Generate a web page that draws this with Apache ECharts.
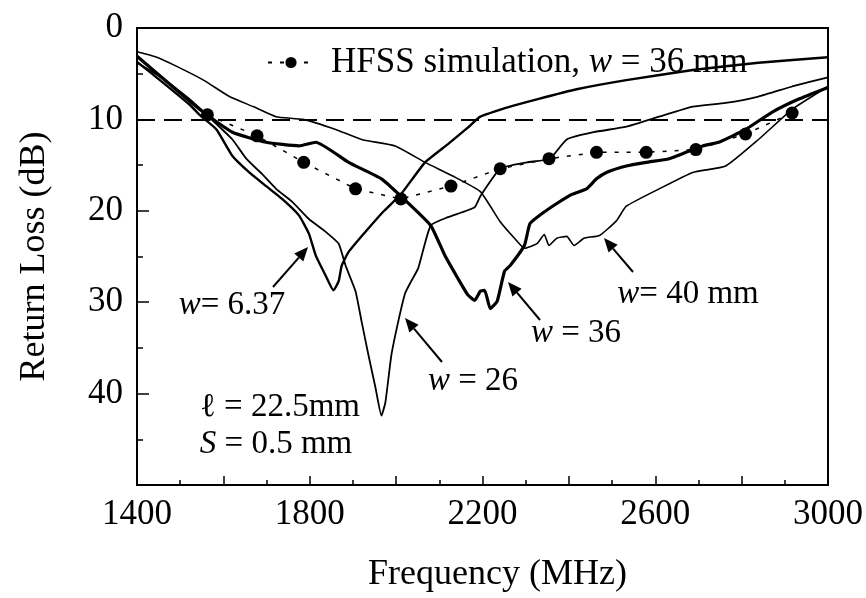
<!DOCTYPE html>
<html>
<head>
<meta charset="utf-8">
<script src="https://cdn.jsdelivr.net/npm/echarts@6/dist/echarts.min.js"></script>
<style>
html,body{margin:0;padding:0;background:#fff;}
#chart{width:866px;height:598px;}
</style>
</head>
<body>
<div id="chart"></div>
<script>
// ---- Data (frequency in MHz, return loss in dB) ----
var w637Freq = [1400,1453,1522,1545,1584,1621,1660,1699,1736,1775,1798,1814,1837,1855,1867,1874,1890,1929,1970,2011,2067,2120,2166,2195,2264,2326,2418,2533,2687,2839,3000];
var w637RL   = [3.7,5.7,8.4,9.5,11.1,14.0,15.8,17.3,18.7,20.5,22.5,24.9,27.1,28.7,27.7,26.0,24.5,22.3,20.1,18.2,14.7,12.7,10.9,9.7,8.6,7.8,6.7,5.7,4.6,3.8,3.2];

var w26Freq = [1400,1453,1522,1568,1621,1653,1690,1722,1759,1798,1837,1867,1883,1906,1920,1936,1952,1966,1975,1989,2005,2021,2035,2051,2080,2120,2182,2195,2241,2303,2356,2395,2457,2533,2609,2687,2763,2839,2917,3000];
var w26RL   = [3.8,5.3,7.8,9.8,12.2,14.3,16.0,17.6,19.0,20.9,22.3,23.6,26.0,28.8,32.1,35.8,39.3,42.4,41.0,35.8,32.1,29.0,27.7,26.3,21.6,20.7,19.6,18.4,15.4,14.7,14.3,12.2,11.4,10.8,9.7,8.6,8.2,7.5,6.4,5.4];

var w36Freq = [1400,1545,1621,1699,1775,1814,1890,1966,2011,2080,2113,2143,2166,2182,2195,2205,2218,2234,2251,2264,2297,2310,2338,2372,2407,2441,2464,2487,2533,2579,2632,2671,2710,2747,2809,2871,2931,3000];
var w36RL   = [3.1,8.9,11.4,12.5,12.9,12.5,14.7,16.5,18.4,21.6,24.9,27.4,29.2,29.8,28.8,28.7,30.7,29.9,26.6,26.0,23.8,21.4,20.3,19.2,18.2,17.6,16.5,15.8,15.1,14.7,14.3,13.6,12.9,12.5,11.1,9.2,7.8,6.5];

var w40Freq = [1400,1446,1492,1554,1614,1669,1722,1784,1860,1920,1998,2067,2131,2195,2241,2274,2297,2326,2343,2354,2372,2395,2412,2435,2471,2510,2533,2609,2687,2763,2839,2917,3000];
var w40RL   = [2.6,3.2,4.2,5.7,7.5,8.6,9.7,10.0,11.1,12.2,12.9,14.7,16.2,17.9,21.2,23.0,24.1,23.6,22.6,23.8,23.0,22.8,23.8,23.0,22.7,21.1,19.5,17.6,15.8,15.1,12.2,8.9,6.4];

var hfssFreq = [1563,1678,1786,1906,2011,2127,2241,2354,2464,2579,2694,2809,2917];
var hfssRL   = [9.5,11.8,14.7,17.6,18.7,17.3,15.4,14.3,13.6,13.6,13.3,11.6,9.3];

var thresholdDB = 10;
var xTickLabels = [1400,1800,2200,2600,3000];
var yTickLabels = [0,10,20,30,40];

function pairs(xs, ys){ return xs.map(function(x,i){ return [x, ys[i]]; }); }

var SERIF = '"Liberation Serif", "DejaVu Serif", serif';

function arrow(x1,y1,x2,y2){
  var dx=x2-x1, dy=y2-y1, L=Math.sqrt(dx*dx+dy*dy), ux=dx/L, uy=dy/L;
  var hl=14, hw=6;
  var bx=x2-ux*hl, by=y2-uy*hl;
  return {
    type:'group', children:[
      {type:'line', shape:{x1:x1,y1:y1,x2:bx,y2:by}, style:{stroke:'#000', lineWidth:2}},
      {type:'polygon', shape:{points:[[x2,y2],[bx-uy*hw,by+ux*hw],[bx+uy*hw,by-ux*hw]]}, style:{fill:'#000'}}
    ]
  };
}
function label(x,y,text){
  return {type:'text', x:x, y:y, style:{
    text:text, fill:'#000', font:'33px '+SERIF, align:'center', verticalAlign:'middle',
    rich:{ i:{fontStyle:'italic', fontSize:33, fontFamily:SERIF}, n:{fontSize:33, fontFamily:SERIF} }
  }};
}

var chart = echarts.init(document.getElementById('chart'));
var lineBase = {type:'line', showSymbol:false, symbol:'none', smooth:0.15, silent:true};

chart.setOption({
  backgroundColor:'#fff',
  animation:false,
  grid:{left:137, right:33, top:28, bottom:111, show:true, borderColor:'#000', borderWidth:2, backgroundColor:'transparent'},
  legend:{
    data:['HFSS'], left:262, top:40, itemWidth:46, itemHeight:14,
    formatter:function(){ return '{n|HFSS simulation, }{i|w}{n| = 36 mm}'; },
    textStyle:{ color:'#000', fontFamily:SERIF, fontSize:35, padding:[0,0,0,12],
      rich:{ n:{fontSize:35, fontFamily:SERIF, color:'#000'}, i:{fontSize:35, fontStyle:'italic', fontFamily:SERIF, color:'#000'} } }
  },
  xAxis:{
    type:'value', min:1400, max:3000, interval:200,
    name:'Frequency (MHz)', nameLocation:'middle', nameGap:72,
    nameTextStyle:{fontFamily:SERIF, fontSize:36, color:'#000', padding:[0,0,0,30]},
    axisLine:{show:true, onZero:false, lineStyle:{color:'#000', width:2}},
    axisTick:{show:true, inside:true, length:9, lineStyle:{color:'#000', width:1.5}},
    minorTick:{show:true, splitNumber:2, length:5, lineStyle:{color:'#000', width:1.5}},
    splitLine:{show:false},
    axisLabel:{fontFamily:SERIF, fontSize:35, color:'#000', margin:12,
      formatter:function(v){ return xTickLabels.indexOf(v)>=0 ? String(v) : ''; }}
  },
  yAxis:{
    type:'value', inverse:true, min:0, max:50, interval:10,
    name:'Return Loss (dB)', nameLocation:'middle', nameGap:84,
    nameTextStyle:{fontFamily:SERIF, fontSize:36, color:'#000'},
    axisLine:{show:true, onZero:false, lineStyle:{color:'#000', width:2}},
    axisTick:{show:true, inside:true, length:12, lineStyle:{color:'#000', width:1.5}},
    minorTick:{show:true, splitNumber:2, length:6, lineStyle:{color:'#000', width:1.5}},
    splitLine:{show:false},
    axisLabel:{fontFamily:SERIF, fontSize:35, color:'#000', margin:14,
      formatter:function(v){ return yTickLabels.indexOf(v)>=0 ? String(v) : ''; }}
  },
  series:[
    Object.assign({}, lineBase, {name:'w=6.37', data:pairs(w637Freq,w637RL), lineStyle:{color:'#000', width:2.4},
      markLine:{silent:true, symbol:'none', label:{show:false},
        lineStyle:{color:'#000', type:[18,9], width:2}, data:[{yAxis:thresholdDB}]}}),
    Object.assign({}, lineBase, {name:'w=26', data:pairs(w26Freq,w26RL), lineStyle:{color:'#000', width:1.8}}),
    Object.assign({}, lineBase, {name:'w=36', data:pairs(w36Freq,w36RL), lineStyle:{color:'#000', width:3.2}}),
    Object.assign({}, lineBase, {name:'w=40', data:pairs(w40Freq,w40RL), lineStyle:{color:'#000', width:1.6}}),
    {type:'line', name:'HFSS', data:pairs(hfssFreq,hfssRL), symbol:'circle', symbolSize:13, showSymbol:true,
      itemStyle:{color:'#000'}, lineStyle:{color:'#000', width:1.5, type:[4,8]}, silent:true}
  ],
  graphic:[
    label(232,305,'{i|w}{n|= 6.37}'),
    label(280,407,'ℓ = 22.5mm'),
    label(276,444,'{i|S}{n| = 0.5 mm}'),
    label(473,381,'{i|w}{n| = 26}'),
    label(576,333,'{i|w}{n| = 36}'),
    label(688,294,'{i|w}{n|= 40 mm}'),
    arrow(273,287,308,247),
    arrow(442,362,405,318),
    arrow(540,320,508,282),
    arrow(633,272,604,238)
  ]
});
</script>
</body>
</html>
